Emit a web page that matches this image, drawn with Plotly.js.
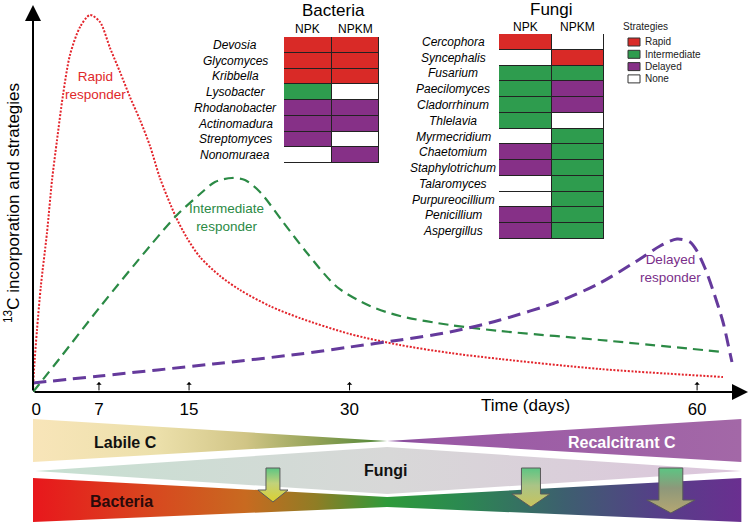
<!DOCTYPE html>
<html><head><meta charset="utf-8">
<script src="https://cdn.plot.ly/plotly-3.0.1.min.js"></script>
<style>html,body{margin:0;padding:0;background:#fff}#chart{width:750px;height:524px}</style>
</head><body><div id="chart"></div>
<script>
// ---------- schematic time axis ----------
const tickLabels = ['0', '7', '15', '30', '60'];
const tickPos    = [0.3, 5.96, 14.1, 28.6, 60.0];   // where each label sits on the schematic axis
const arrowTickPos = [5.96, 14.1, 28.6, 60.0];

// ---------- responder curves (x: schematic time, y: relative 13C incorporation) ----------
const rapidX = [0, 0.09, 0.36, 0.72, 1.26, 1.72, 2.17, 2.71, 3.34, 4.25, 5.15, 6.05, 6.96, 7.86, 8.76, 9.67, 10.57, 11.47, 12.83, 13.91, 15.09, 16.9, 18.7, 21.41, 24.12, 28.64, 33.16, 37.67, 42.19, 51.23, 62.34];
const rapidY = [0, 5.68, 16.02, 27.65, 41.09, 54.78, 65.12, 76.74, 87.08, 94.32, 97.42, 95.61, 88.89, 82.69, 76.23, 70.28, 63.57, 55.3, 45.74, 39.79, 34.88, 29.97, 26.36, 22.2, 19.1, 14.98, 12.14, 10.08, 8.53, 5.94, 3.88];

const interX = [0, 2.44, 6.05, 10.57, 13.01, 15.09, 16.44, 17.98, 19.15, 20.51, 22.59, 24.76, 27.47, 30.45, 33.16, 37.67, 42.19, 51.23, 62.34];
const interY = [0, 8.79, 21.96, 37.73, 45.74, 51.16, 54.26, 55.3, 54.78, 51.68, 43.93, 35.92, 27.13, 22.22, 19.64, 17.31, 15.76, 13.44, 10.34];

const delayX = [0, 6.05, 16.26, 24.12, 28.64, 33.16, 37.67, 42.19, 47.61, 51.23, 54.84, 56.65, 58.19, 59.36, 59.99, 60.71, 61.43, 62.34, 62.97, 63.15];
const delayY = [2.33, 4.13, 7.24, 9.82, 11.63, 13.44, 15.5, 18.6, 23.51, 28.17, 34.37, 37.73, 39.54, 38.76, 36.43, 32.04, 26.36, 18.09, 10.08, 7.75];

// ---------- strategy tables ----------
const strategies = ['None', 'Rapid', 'Intermediate', 'Delayed'];
const strategyColors = ['#ffffff', '#d92a27', '#2e9c4e', '#863087'];
const treatments = ['NPK', 'NPKM'];

const bactGenera = ['Devosia', 'Glycomyces', 'Kribbella', 'Lysobacter', 'Rhodanobacter', 'Actinomadura', 'Streptomyces', 'Nonomuraea'];
const bactNPK  = ['Rapid', 'Rapid', 'Rapid', 'Intermediate', 'Delayed', 'Delayed', 'Delayed', 'None'];
const bactNPKM = ['Rapid', 'Rapid', 'Rapid', 'None', 'Delayed', 'Delayed', 'None', 'Delayed'];

const fungiGenera = ['Cercophora', 'Syncephalis', 'Fusarium', 'Paecilomyces', 'Cladorrhinum', 'Thlelavia', 'Myrmecridium', 'Chaetomium', 'Staphylotrichum', 'Talaromyces', 'Purpureocillium', 'Penicillium', 'Aspergillus'];
const fungiNPK  = ['Rapid', 'None', 'Intermediate', 'Intermediate', 'Intermediate', 'Intermediate', 'None', 'Delayed', 'Delayed', 'None', 'None', 'Delayed', 'Delayed'];
const fungiNPKM = ['None', 'Rapid', 'Intermediate', 'Delayed', 'Delayed', 'None', 'Intermediate', 'Intermediate', 'Intermediate', 'Intermediate', 'Intermediate', 'Intermediate', 'Intermediate'];

// ---------- substrate / community bands (x: schematic time, y: band units) ----------
const labileX = [0, 32, 0],        labileY = [105, 83, 62];
const recalX  = [32, 64, 64],      recalY  = [83, 105, 62];
const fungiBandX = [0.2, 32, 64, 32], fungiBandY = [53, 77, 53, 30];
const bactBandX = [0, 32, 64, 64, 32, 0], bactBandY = [46, 27, 46, 2, 17, 2];
// transfer arrows: centre, shaft half-width, head half-width, top, shaft bottom, tip, colours
const arrowCentre = [21.68, 44.99, 57.63];
const arrowShaft  = [0.63, 0.86, 1.08];
const arrowHead   = [1.36, 1.72, 2.17];
const arrowTop    = [56, 56, 56];
const arrowNeck   = [34, 30, 24];
const arrowTip    = [22, 17, 11];
const arrowBottomColor = ['#dccf2e', '#c9c35c', '#b5a772'];
const arrowMidColor = ['#c2d27a', '#aac486', '#8e987a'];

// ---------- build ----------
const FONT = 'Liberation Sans, Arial, Helvetica, sans-serif';
const code = s => strategies.indexOf(s);
const W = 750, H = 524;
const px = v => v / W, py = v => (H - v) / H;

const traces = [];
traces.push({x: rapidX, y: rapidY, type: 'scatter', mode: 'lines', xaxis: 'x', yaxis: 'y',
  line: {color: '#e3242b', width: 2, dash: '2px,1.6px', shape: 'spline', smoothing: 0.8}});
traces.push({x: interX, y: interY, type: 'scatter', mode: 'lines', xaxis: 'x', yaxis: 'y',
  line: {color: '#2b8a45', width: 2.2, dash: '10px,6px', shape: 'spline', smoothing: 0.8}});
traces.push({x: delayX, y: delayY, type: 'scatter', mode: 'lines', xaxis: 'x', yaxis: 'y',
  line: {color: '#653a9c', width: 3, dash: '13px,7px', shape: 'spline', smoothing: 0.8}});

const cs = [[0, strategyColors[0]], [0.1667, strategyColors[0]], [0.1667, strategyColors[1]], [0.5, strategyColors[1]],
            [0.5, strategyColors[2]], [0.8333, strategyColors[2]], [0.8333, strategyColors[3]], [1, strategyColors[3]]];
traces.push({type: 'heatmap', x: treatments, y: bactGenera, z: bactGenera.map((g, i) => [code(bactNPK[i]), code(bactNPKM[i])]),
  xaxis: 'x2', yaxis: 'y2', zmin: 0, zmax: 3, colorscale: cs, showscale: false, xgap: 1, ygap: 1, hoverinfo: 'skip'});
traces.push({type: 'heatmap', x: treatments, y: fungiGenera, z: fungiGenera.map((g, i) => [code(fungiNPK[i]), code(fungiNPKM[i])]),
  xaxis: 'x3', yaxis: 'y3', zmin: 0, zmax: 3, colorscale: cs, showscale: false, xgap: 1, ygap: 1, hoverinfo: 'skip'});

function band(x, y, type, scale) {
  return {x: x.concat([x[0]]), y: y.concat([y[0]]), type: 'scatter', mode: 'lines', fill: 'toself',
    xaxis: 'x', yaxis: 'y4', line: {width: 0}, hoverinfo: 'skip',
    fillgradient: {type: type, colorscale: scale}};
}
traces.push(band(labileX, labileY, 'horizontal', [[0, '#f8e5b9'], [0.35, '#ece0ab'], [0.6, '#d1c586'], [0.8, '#93a257'], [1, '#4c8536']]));
traces.push(band(recalX, recalY, 'horizontal', [[0, '#83489a'], [0.15, '#9a59a5'], [1, '#a368a7']]));
traces.push(band(fungiBandX, fungiBandY, 'horizontal', [[0, '#c6e0d1'], [0.5, '#d8d8d8'], [1, '#dcc5dc']]));
traces.push(band(bactBandX, bactBandY, 'horizontal', [[0, '#e8171c'], [0.17, '#d8481f'], [0.3, '#c86a20'], [0.4, '#8f7d25'],
  [0.5, '#2e9a3a'], [0.6, '#2b8a50'], [0.75, '#3d5f6f'], [0.88, '#553f88'], [1, '#6a2f90']]));

for (let i = 0; i < arrowCentre.length; i++) {
  const c = arrowCentre[i], s = arrowShaft[i], h = arrowHead[i];
  const ax = [c - s, c + s, c + s, c + h, c, c - h, c - s, c - s];
  const ay = [arrowTop[i], arrowTop[i], arrowNeck[i], arrowNeck[i], arrowTip[i], arrowNeck[i], arrowNeck[i], arrowTop[i]];
  traces.push({x: ax, y: ay, type: 'scatter', mode: 'lines', fill: 'toself', xaxis: 'x', yaxis: 'y4',
    line: {color: '#5a5a5a', width: 1}, hoverinfo: 'skip',
    fillgradient: {type: 'vertical', colorscale: [[0, arrowBottomColor[i]], [0.55, arrowMidColor[i]], [1, '#5cc583']]}});
}

const ann = [];
// axis arrows
ann.push({xref: 'x', yref: 'y', axref: 'x', ayref: 'y', x: 0, y: 100, ax: 0, ay: 0, text: '', showarrow: true,
  arrowhead: 2, arrowsize: 1.6, arrowwidth: 2, arrowcolor: '#000', standoff: 0});
ann.push({xref: 'x', yref: 'y', axref: 'x', ayref: 'y', x: 64.6, y: 0, ax: 0, ay: 0, text: '', showarrow: true,
  arrowhead: 2, arrowsize: 1.6, arrowwidth: 2, arrowcolor: '#000', standoff: 0});
arrowTickPos.forEach(t => ann.push({xref: 'x', yref: 'y', x: t, y: 2.6, ax: 0, ay: 10, text: '', showarrow: true,
  arrowhead: 1, arrowsize: 0.9, arrowwidth: 1, arrowcolor: '#000', standoff: 0}));
ann.push({xref: 'x', yref: 'paper', x: 44.5, y: py(405), text: 'Time (days)', showarrow: false,
  font: {family: FONT, size: 17, color: '#000'}});
ann.push({xref: 'paper', yref: 'paper', x: px(12), y: py(203), text: '<sup>13</sup>C incorporation and strategies',
  textangle: -90, showarrow: false, font: {family: FONT, size: 17, color: '#000'}});
// responder labels
ann.push({xref: 'x', yref: 'y', x: 5.69, y: 79.3, text: 'Rapid<br>responder', showarrow: false,
  font: {family: FONT, size: 13.5, color: '#e0282a'}});
ann.push({xref: 'x', yref: 'y', x: 17.5, y: 45.2, text: 'Intermediate<br>responder', showarrow: false,
  font: {family: FONT, size: 13.5, color: '#2b8a45'}});
ann.push({xref: 'x', yref: 'y', x: 57.6, y: 31.8, text: 'Delayed<br>responder', showarrow: false,
  font: {family: FONT, size: 13.5, color: '#7a2f8a'}});
// tables
ann.push({xref: 'paper', yref: 'paper', x: px(333), y: py(11), text: 'Bacteria', showarrow: false, font: {family: FONT, size: 17, color: '#000'}});
ann.push({xref: 'paper', yref: 'paper', x: px(551), y: py(10), text: 'Fungi', showarrow: false, font: {family: FONT, size: 17, color: '#000'}});
treatments.forEach((t, j) => {
  ann.push({xref: 'x2', yref: 'paper', x: j, y: py(29), text: t, showarrow: false, font: {family: FONT, size: 12, color: '#000'}});
  ann.push({xref: 'x3', yref: 'paper', x: j, y: py(27), text: t, showarrow: false, font: {family: FONT, size: 12, color: '#000'}});
});
bactGenera.forEach((g, i) => ann.push({xref: 'paper', yref: 'y2', x: px(235), y: i, text: '<i>' + g + '</i>', showarrow: false,
  font: {family: FONT, size: 12, color: '#000'}}));
fungiGenera.forEach((g, i) => ann.push({xref: 'paper', yref: 'y3', x: px(453), y: i, text: '<i>' + g + '</i>', showarrow: false,
  font: {family: FONT, size: 12, color: '#000'}}));
// strategy legend
ann.push({xref: 'paper', yref: 'paper', x: px(621), y: py(26), xanchor: 'left', text: 'Strategies', showarrow: false,
  font: {family: FONT, size: 10, color: '#222'}});
const legendOrder = ['Rapid', 'Intermediate', 'Delayed', 'None'];
const shapes = [];
legendOrder.forEach((s, k) => {
  const cy = 42 + k * 12.3;
  shapes.push({type: 'rect', xref: 'paper', yref: 'paper', x0: px(628), x1: px(640), y0: py(cy + 4), y1: py(cy - 4),
    fillcolor: strategyColors[code(s)], line: {color: '#333', width: 1}});
  ann.push({xref: 'paper', yref: 'paper', x: px(643), y: py(cy), xanchor: 'left', text: s, showarrow: false,
    font: {family: FONT, size: 10, color: '#222'}});
});
// table frames (dark colour shows through the cell gaps)
shapes.push({type: 'rect', xref: 'x2', yref: 'y2', x0: -0.5, x1: 1.5, y0: -0.5, y1: bactGenera.length - 0.5,
  fillcolor: '#222', line: {color: '#222', width: 1}, layer: 'below'});
shapes.push({type: 'rect', xref: 'x3', yref: 'y3', x0: -0.5, x1: 1.5, y0: -0.5, y1: fungiGenera.length - 0.5,
  fillcolor: '#222', line: {color: '#222', width: 1}, layer: 'below'});
// band texts
const bandFont = (c) => ({family: FONT, size: 16, color: c});
ann.push({xref: 'x', yref: 'y4', x: 8.4, y: 82, text: '<b>Labile C</b>', showarrow: false, font: bandFont('#111')});
ann.push({xref: 'x', yref: 'y4', x: 53.2, y: 82, text: '<b>Recalcitrant C</b>', showarrow: false, font: bandFont('#ffffff')});
ann.push({xref: 'x', yref: 'y4', x: 31.9, y: 54, text: '<b>Fungi</b>', showarrow: false, font: bandFont('#111')});
ann.push({xref: 'x', yref: 'y4', x: 8.04, y: 23, text: '<b>Bacteria</b>', showarrow: false, font: bandFont('#2a0a0a')});
ann.forEach(a => { if (!a.xanchor) a.xanchor = 'center'; if (!a.yanchor) a.yanchor = 'middle'; });

const noAx = {showgrid: false, zeroline: false, showline: false, showticklabels: false, ticks: '', fixedrange: true};
const layout = {
  width: W, height: H, margin: {l: 0, r: 0, t: 0, b: 0},
  paper_bgcolor: '#fff', plot_bgcolor: 'rgba(0,0,0,0)', showlegend: false, hovermode: false,
  font: {family: FONT},
  xaxis: Object.assign({}, noAx, {domain: [px(33), px(748)], range: [0, 64.6], anchor: 'y',
    showticklabels: true, tickvals: tickPos, ticktext: tickLabels, tickfont: {family: FONT, size: 17, color: '#000'},
    ticklabelstandoff: 5}),
  yaxis: Object.assign({}, noAx, {domain: [py(392), py(5)], range: [0, 100], anchor: 'x'}),
  xaxis2: Object.assign({}, noAx, {domain: [px(284), px(379)], anchor: 'y2', type: 'category', range: [-0.5, 1.5]}),
  yaxis2: Object.assign({}, noAx, {domain: [py(163), py(37)], anchor: 'x2', type: 'category', range: [bactGenera.length - 0.5, -0.5]}),
  xaxis3: Object.assign({}, noAx, {domain: [px(499), px(604)], anchor: 'y3', type: 'category', range: [-0.5, 1.5]}),
  yaxis3: Object.assign({}, noAx, {domain: [py(239), py(34)], anchor: 'x3', type: 'category', range: [fungiGenera.length - 0.5, -0.5]}),
  yaxis4: Object.assign({}, noAx, {domain: [0, py(415)], range: [0, 109], anchor: 'x'}),
  annotations: ann, shapes: shapes
};
Plotly.newPlot('chart', traces, layout, {staticPlot: true, displayModeBar: false});
</script></body></html>
